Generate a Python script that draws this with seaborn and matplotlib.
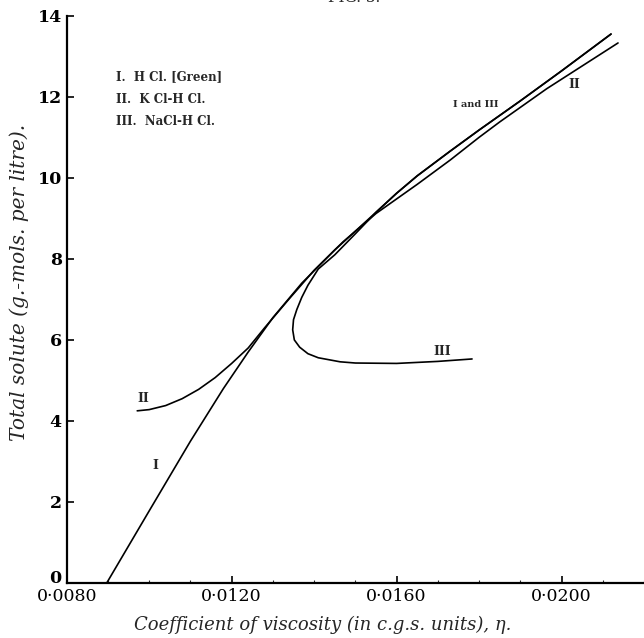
import matplotlib
matplotlib.use("Agg")
import matplotlib.pyplot as plt
import numpy as np
import pandas as pd
import seaborn as sns
from matplotlib.ticker import FixedLocator, FuncFormatter

# curve I : HCl (Green)
x_hcl = [0.00897, 0.0100, 0.0110, 0.0118, 0.0124, 0.0130, 0.0137, 0.0145,
         0.0155, 0.0160, 0.0165, 0.0173, 0.0180, 0.0190, 0.0200, 0.0212]
y_hcl = [0.0, 1.78, 3.50, 4.80, 5.70, 6.55, 7.40, 8.22,
         9.15, 9.62, 10.05, 10.66, 11.18, 11.90, 12.64, 13.55]

# curve II : KCl-HCl
x_kcl = [0.00971, 0.0100, 0.0104, 0.0108, 0.0112, 0.0116, 0.0120, 0.0124,
         0.0128, 0.0134, 0.0140, 0.0147, 0.0155, 0.0165, 0.0173, 0.0180,
         0.0185, 0.01964, 0.02137]
y_kcl = [4.25, 4.28, 4.38, 4.55, 4.78, 5.07, 5.42, 5.80,
         6.30, 7.02, 7.72, 8.42, 9.12, 9.84, 10.44, 11.00,
         11.38, 12.20, 13.33]

# curve III : NaCl-HCl (from the right end round the nose, then along I)
x_nacl = [0.01783, 0.0170, 0.0160, 0.0150, 0.01463, 0.0141, 0.01385, 0.01365,
          0.01352, 0.01348, 0.01350, 0.01358, 0.01370, 0.01385, 0.0141, 0.0145,
          0.0150, 0.0155, 0.0160, 0.0165, 0.0173, 0.0180, 0.0190, 0.0200, 0.0212]
y_nacl = [5.53, 5.47, 5.42, 5.43, 5.46, 5.56, 5.66, 5.82,
          6.00, 6.25, 6.50, 6.75, 7.05, 7.35, 7.75, 8.10,
          8.62, 9.15, 9.62, 10.05, 10.66, 11.18, 11.90, 12.64, 13.55]

legend_lines = ["I.  H Cl. [Green]", "II.  K Cl-H Cl.", "III.  NaCl-H Cl."]
x_ticks = [0.0080, 0.0120, 0.0160, 0.0200]
y_ticks = [0, 2, 4, 6, 8, 10, 12, 14]

sns.set_style("ticks")
plt.rcParams['font.family'] = ['DejaVu Serif', 'DejaVu Sans']

df = pd.concat([
    pd.DataFrame({'eta': x_hcl, 'solute': y_hcl, 'curve': 'I'}),
    pd.DataFrame({'eta': x_kcl, 'solute': y_kcl, 'curve': 'II'}),
    pd.DataFrame({'eta': x_nacl, 'solute': y_nacl, 'curve': 'III'}),
])

fig = plt.figure(figsize=(6.44, 6.38), dpi=100)
ax = fig.add_axes([0.1036, 0.0862, 0.8964, 0.889])

sns.lineplot(data=df, x='eta', y='solute', units='curve', estimator=None,
             sort=False, color='black', lw=1.2, ax=ax)

ax.set_xlim(0.0080, 0.0220)
ax.set_ylim(0, 14)
sns.despine(ax=ax)
for s in ['left', 'bottom']:
    ax.spines[s].set_linewidth(1.6)
    ax.spines[s].set_color('black')

ax.xaxis.set_major_locator(FixedLocator(x_ticks))
ax.xaxis.set_minor_locator(FixedLocator(np.arange(0.0080, 0.0221, 0.0010)))
ax.xaxis.set_major_formatter(FuncFormatter(lambda v, p: f"{v:.4f}".replace('.', '\u00b7')))
ax.yaxis.set_major_locator(FixedLocator(y_ticks))
ax.tick_params(axis='both', which='major', direction='in', length=5, width=1.2,
               labelsize=12.5, colors='black')
ax.tick_params(axis='x', which='minor', direction='in', length=2.5, width=0.8)
for lab in ax.get_yticklabels():
    lab.set_fontweight('bold')
ax.get_yticklabels()[0].set_va('baseline')

ax.set_xlabel("Coefficient of viscosity (in c.g.s. units), \u03b7.",
              fontstyle='italic', fontsize=13)
ax.xaxis.set_label_coords(0.443, -0.057)
ax.set_ylabel("Total solute (g.-mols. per litre).", fontstyle='italic', fontsize=14.5)
ax.yaxis.set_label_coords(-0.066, 0.53)

# legend block
for i, t in enumerate(legend_lines):
    ax.text(0.0092, 12.5 - i * 0.56, t, fontsize=8.5, va='center', ha='left',
            fontweight='bold')

# curve labels
ax.text(0.01015, 2.9, "I", fontsize=9, fontweight='bold', ha='center', va='center')
ax.text(0.00985, 4.55, "II", fontsize=9, fontweight='bold', ha='center', va='center')
ax.text(0.0171, 5.72, "III", fontsize=9, fontweight='bold', ha='center', va='center')
ax.text(0.01793, 11.8, "I and III", fontsize=7, fontweight='bold', ha='center', va='center')
ax.text(0.02032, 12.3, "II", fontsize=9, fontweight='bold', ha='center', va='center')

fig.text(0.55, 1.003, "FIG. 3.", fontsize=11, ha='center', va='center')

fig.savefig("out.png", dpi=100)
